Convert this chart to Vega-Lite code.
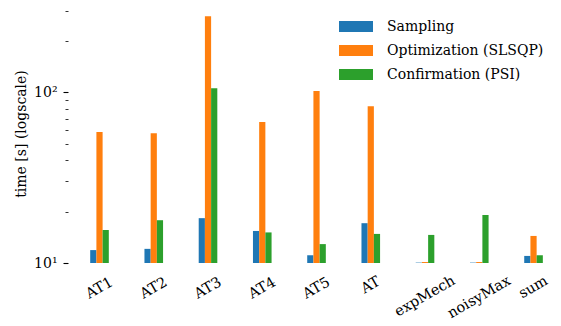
{
  "$schema": "https://vega.github.io/schema/vega-lite/v6.json",
  "autosize": "none",
  "padding": {"left": 68, "top": 4, "right": 0, "bottom": 63},
  "width": 493,
  "height": 259,
  "config": {
    "view": {"stroke": null},
    "font": "DejaVu Serif"
  },
  "data": {
    "values": [
      {"bench": "AT1", "method": "Sampling", "time": 11.9},
      {"bench": "AT1", "method": "Optimization (SLSQP)", "time": 58.4},
      {"bench": "AT1", "method": "Confirmation (PSI)", "time": 15.6},
      {"bench": "AT2", "method": "Sampling", "time": 12.1},
      {"bench": "AT2", "method": "Optimization (SLSQP)", "time": 57.5},
      {"bench": "AT2", "method": "Confirmation (PSI)", "time": 17.8},
      {"bench": "AT3", "method": "Sampling", "time": 18.3},
      {"bench": "AT3", "method": "Optimization (SLSQP)", "time": 278},
      {"bench": "AT3", "method": "Confirmation (PSI)", "time": 105.5},
      {"bench": "AT4", "method": "Sampling", "time": 15.4},
      {"bench": "AT4", "method": "Optimization (SLSQP)", "time": 66.8},
      {"bench": "AT4", "method": "Confirmation (PSI)", "time": 15.1},
      {"bench": "AT5", "method": "Sampling", "time": 11.1},
      {"bench": "AT5", "method": "Optimization (SLSQP)", "time": 101.4},
      {"bench": "AT5", "method": "Confirmation (PSI)", "time": 12.9},
      {"bench": "AT", "method": "Sampling", "time": 17.1},
      {"bench": "AT", "method": "Optimization (SLSQP)", "time": 82.8},
      {"bench": "AT", "method": "Confirmation (PSI)", "time": 14.8},
      {"bench": "expMech", "method": "Sampling", "time": 10.05},
      {"bench": "expMech", "method": "Optimization (SLSQP)", "time": 10.13},
      {"bench": "expMech", "method": "Confirmation (PSI)", "time": 14.6},
      {"bench": "noisyMax", "method": "Sampling", "time": 10.05},
      {"bench": "noisyMax", "method": "Optimization (SLSQP)", "time": 10.13},
      {"bench": "noisyMax", "method": "Confirmation (PSI)", "time": 19.1},
      {"bench": "sum", "method": "Sampling", "time": 11.0},
      {"bench": "sum", "method": "Optimization (SLSQP)", "time": 14.4},
      {"bench": "sum", "method": "Confirmation (PSI)", "time": 11.1}
    ]
  },
  "mark": {"type": "bar", "clip": true},
  "encoding": {
    "x": {
      "field": "bench",
      "type": "nominal",
      "sort": ["AT1", "AT2", "AT3", "AT4", "AT5", "AT", "expMech", "noisyMax", "sum"],
      "scale": {"paddingInner": 0.657, "paddingOuter": 0.372, "align": 0.55},
      "axis": {
        "title": null,
        "domain": false,
        "ticks": false,
        "tickSize": 0,
        "labelAngle": -30,
        "labelAlign": "center",
        "labelBaseline": "middle",
        "labelFont": "DejaVu Serif",
        "labelFontSize": 14.5,
        "labelColor": "#000000",
        "labelPadding": {
          "condition": [
            {"test": "datum.value == 'expMech'", "value": 33},
            {"test": "datum.value == 'noisyMax'", "value": 34},
            {"test": "datum.value == 'AT'", "value": 22},
            {"test": "datum.value == 'sum'", "value": 24}
          ],
          "value": 25
        }
      }
    },
    "xOffset": {
      "field": "method",
      "type": "nominal",
      "sort": ["Sampling", "Optimization (SLSQP)", "Confirmation (PSI)"],
      "scale": {"paddingInner": 0, "paddingOuter": 0}
    },
    "y": {
      "field": "time",
      "type": "quantitative",
      "scale": {"type": "log", "domain": [10, 328], "nice": false},
      "axis": {
        "title": "time [s] (logscale)",
        "titleFont": "DejaVu Serif",
        "titleFontSize": 14,
        "titleFontWeight": "normal",
        "titleColor": "#000000",
        "titlePadding": 5,
        "domain": false,
        "grid": false,
        "values": [10, 20, 30, 40, 50, 60, 70, 80, 90, 100, 200, 300],
        "labelExpr": "datum.value == 10 ? '10¹' : (datum.value == 100 ? '10²' : '')",
        "labelFont": "DejaVu Serif",
        "labelFontSize": 14,
        "labelColor": "#000000",
        "labelPadding": 6,
        "tickColor": "#000000",
        "tickSize": {"condition": {"test": "datum.value == 10 || datum.value == 100", "value": 5}, "value": 3},
        "tickWidth": {"condition": {"test": "datum.value == 10 || datum.value == 100", "value": 1.1}, "value": 0.8}
      }
    },
    "y2": {"datum": 10},
    "color": {
      "field": "method",
      "type": "nominal",
      "sort": ["Sampling", "Optimization (SLSQP)", "Confirmation (PSI)"],
      "scale": {"range": ["#1f77b4", "#ff7f0e", "#2ca02c"]},
      "legend": {
        "title": null,
        "orient": "none",
        "legendX": 271,
        "legendY": 5.5,
        "padding": 0,
        "symbolType": "M-1,-0.33H1V0.33H-1Z",
        "symbolSize": 1156,
        "symbolStrokeWidth": 0,
        "symbolOpacity": 1,
        "labelOffset": 14,
        "labelFont": "DejaVu Serif",
        "labelFontSize": 14,
        "labelColor": "#000000",
        "rowPadding": -9.7
      }
    }
  }
}
